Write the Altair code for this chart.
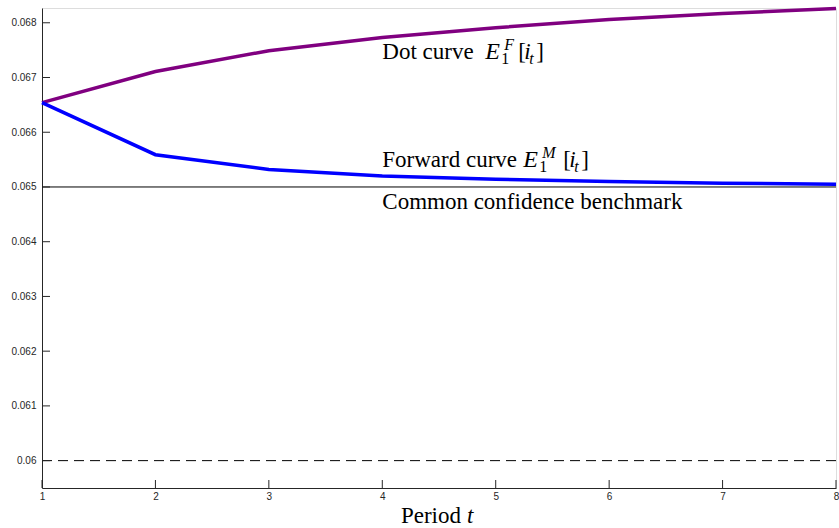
import altair as alt
import pandas as pd

# ---------------- data ----------------
periods = [1, 2, 3, 4, 5, 6, 7, 8]
dot_curve = [0.06654, 0.06711, 0.06749, 0.06773, 0.06791, 0.06806, 0.06817, 0.06826]
forward_curve = [0.06654, 0.06559, 0.06532, 0.06520, 0.06514, 0.06510, 0.06507, 0.06505]
benchmark_level = [0.065]
floor_level = [0.060]
y_ticks = [0.060, 0.061, 0.062, 0.063, 0.064, 0.065, 0.066, 0.067, 0.068]
y_domain = [0.0595, 0.06827]
x_domain = [1, 8]

# annotation anchors (period, value at text baseline)
dot_label_pos = [4, 0.06733]
fwd_label_pos = [4, 0.06537]
bench_label_pos = [4, 0.06460]
dot_label_text = ["Dot curve", "E", "F", "1", "[", "i", "t", "]"]
fwd_label_text = ["Forward curve", "E", "M", "1", "[", "i", "t", "]"]
bench_label_text = "Common confidence benchmark"
x_title_text = ["Period", "t"]

W, H = 794, 480
SERIF = "Liberation Serif"
SANS = "Liberation Sans"
AX = "#262626"

series = pd.DataFrame({
    "t": periods * 2,
    "v": dot_curve + forward_curve,
    "s": ["dot"] * len(periods) + ["fwd"] * len(periods),
})

xs = alt.Scale(domain=x_domain, nice=False, zero=False)
ys = alt.Scale(domain=y_domain, nice=False, zero=False)

x_enc = alt.X("t:Q", scale=xs, axis=alt.Axis(
    values=periods, format="d", ticks=False, grid=False, title=None,
    labelFont=SANS, labelFontSize=10, labelColor=AX, labelPadding=3,
    labelFlush=False, domainColor=AX, domainWidth=1))
y_enc = alt.Y("v:Q", scale=ys, axis=alt.Axis(
    values=y_ticks, format=".3~f", ticks=False, grid=False, title=None,
    labelFont=SANS, labelFontSize=10, labelColor=AX, labelPadding=6,
    labelFlush=False, domainColor=AX, domainWidth=1))

floor_rule = alt.Chart(pd.DataFrame({"v": floor_level})).mark_rule(
    color="black", strokeWidth=1, strokeDash=[10, 6]).encode(y=y_enc)
bench_rule = alt.Chart(pd.DataFrame({"v": benchmark_level})).mark_rule(
    color="black", strokeWidth=1).encode(y=y_enc)

lines = alt.Chart(series).mark_line(strokeWidth=3.5).encode(
    x=x_enc, y=y_enc,
    color=alt.Color("s:N", scale=alt.Scale(domain=["dot", "fwd"], range=["#800080", "#0000ff"]), legend=None),
    detail="s:N",
)

xticks = alt.Chart(pd.DataFrame({"t": periods})).mark_rule(color=AX, strokeWidth=1).encode(
    x=x_enc, y=alt.value(H), y2=alt.value(H - 8))
yticks = alt.Chart(pd.DataFrame({"v": y_ticks})).mark_rule(color=AX, strokeWidth=1).encode(
    y=y_enc, x=alt.value(0), x2=alt.value(8))


def piece(pos, text, dx, dy=0, size=23, italic=False):
    return alt.Chart(pd.DataFrame({"t": [pos[0]], "v": [pos[1]], "txt": [text]})).mark_text(
        align="left", baseline="alphabetic", font=SERIF, fontSize=size,
        fontStyle="italic" if italic else "normal", color="black", dx=dx, dy=dy,
    ).encode(x=x_enc, y=y_enc, text="txt:N")


def math_label(pos, parts, e_dx, offs):
    out = [piece(pos, parts[0], 0)]
    out.append(piece(pos, parts[1], e_dx, size=24, italic=True))
    out.append(piece(pos, parts[2], e_dx + offs[0], dy=-9, size=16, italic=True))
    out.append(piece(pos, parts[3], e_dx + offs[0] - 3, dy=5, size=16))
    out.append(piece(pos, parts[4], e_dx + offs[1]))
    out.append(piece(pos, parts[5], e_dx + offs[2], italic=True))
    out.append(piece(pos, parts[6], e_dx + offs[3], dy=5, size=16, italic=True))
    out.append(piece(pos, parts[7], e_dx + offs[4]))
    return out


dot_parts = math_label(dot_label_pos, dot_label_text, 103, [19, 33, 39, 44, 51])
fwd_parts = math_label(fwd_label_pos, fwd_label_text, 141, [19, 40, 46, 51, 58])
bench_txt = piece(bench_label_pos, bench_label_text, 0)

title_parts = [
    alt.Chart(pd.DataFrame({"t": [4.5], "txt": [x_title_text[0]]})).mark_text(
        align="right", baseline="alphabetic", font=SERIF, fontSize=23, color="black", dx=22
    ).encode(x=x_enc, y=alt.value(H + 35), text="txt:N"),
    alt.Chart(pd.DataFrame({"t": [4.5], "txt": [x_title_text[1]]})).mark_text(
        align="left", baseline="alphabetic", font=SERIF, fontSize=23, fontStyle="italic",
        color="black", dx=28
    ).encode(x=x_enc, y=alt.value(H + 35), text="txt:N"),
]

chart = alt.layer(
    floor_rule, bench_rule, lines, xticks, yticks,
    *dot_parts, *fwd_parts, bench_txt, *title_parts,
).properties(
    width=W, height=H,
    padding={"left": 42, "top": 8, "right": 3, "bottom": 40},
    autosize=alt.AutoSizeParams(type="none"),
).configure_view(stroke=None).configure(background="white")

chart.save("out.html", embed_options={"renderer": "svg", "actions": False})
